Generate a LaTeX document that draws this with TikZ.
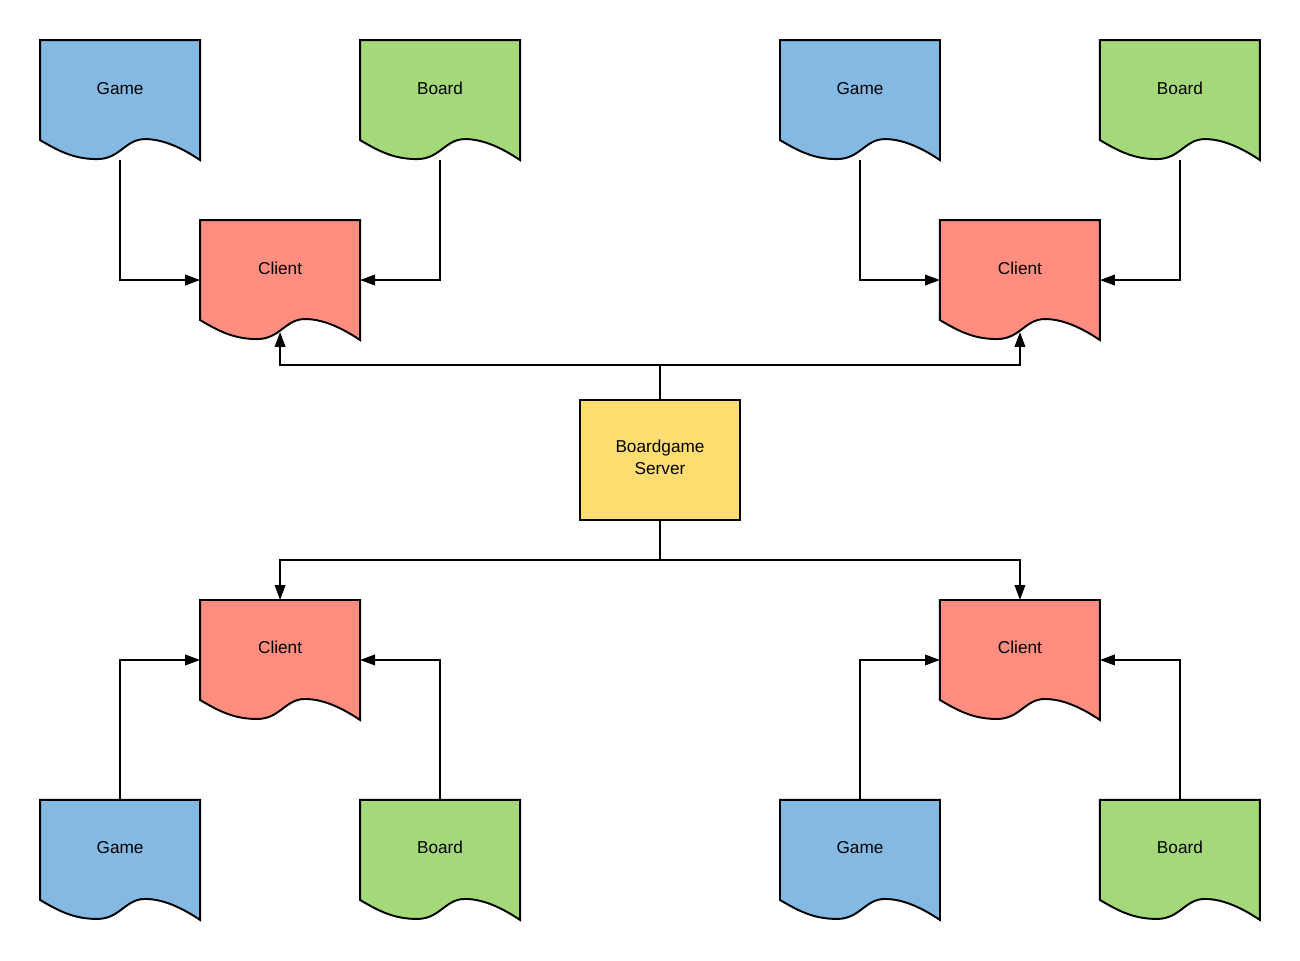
\documentclass[tikz,border=0pt]{standalone}
\usepackage{fontspec}
\setmainfont{Liberation Sans}
\usetikzlibrary{positioning,arrows.meta,backgrounds}

\definecolor{gameblue}{HTML}{83B9E3}
\definecolor{boardgreen}{HTML}{A3D978}
\definecolor{clientred}{HTML}{FF8D80}
\definecolor{serveryellow}{HTML}{FFDE71}

\tikzset{
  docbox/.style={minimum width=3.2cm, minimum height=2.4cm, inner sep=0pt, outer sep=0pt,
    text height=7pt, text depth=13.8pt},
  docline/.style={draw=black, line width=1.1pt, line join=miter},
  link/.style={draw=black, line width=1.1pt, -{Triangle[length=8.5pt,width=6pt]}},
}

\begin{document}
\begin{tikzpicture}[x=0.02cm, y=-0.02cm, font=\fontsize{9.8pt}{12.2pt}\selectfont]
      \useasboundingbox (0,0) rectangle (1300,960);
      % Define nodes
      \node[draw, line width=1.1pt, fill=serveryellow, minimum width=3.2cm, minimum height=2.4cm,
        inner sep=0pt, outer sep=0pt, text height=7pt, text depth=15.3pt] (server) at (660,460)
        {\parbox[t]{3cm}{\centering Boardgame\\Server}};
      \node[docbox, above left=1.2cm and 4.4cm of server]  (client1) {Client};
      \node[docbox, above right=1.2cm and 4cm of server]   (client2) {Client};
      \node[docbox, below left=1.6cm and 4.4cm of server]  (client3) {Client};
      \node[docbox, below right=1.6cm and 4cm of server]   (client4) {Client};
      \node[docbox, above left=1.2cm and 0cm of client1]   (game1) {Game};
      \node[docbox, above right=1.2cm and 0cm of client1]  (board1) {Board};
      \node[docbox, above left=1.2cm and 0cm of client2]   (game2) {Game};
      \node[docbox, above right=1.2cm and 0cm of client2]  (board2) {Board};
      \node[docbox, below left=1.6cm and 0cm of client3]   (game3) {Game};
      \node[docbox, below right=1.6cm and 0cm of client3]  (board3) {Board};
      \node[docbox, below left=1.6cm and 0cm of client4]   (game4) {Game};
      \node[docbox, below right=1.6cm and 0cm of client4]  (board4) {Board};
      \begin{scope}[on background layer]
        % Connect nodes
        \draw[link] (game1) |- (client1.west);
        \draw[link] (board1) |- (client1.east);
        \draw[link] (game2) |- (client2.west);
        \draw[link] (board2) |- (client2.east);
        \draw[link] (game3) |- (client3.west);
        \draw[link] (board3) |- (client3.east);
        \draw[link] (game4) |- (client4.west);
        \draw[link] (board4) |- (client4.east);
        \draw[link, shorten >=-0.16cm] (server.north) -- ++(0,-35) -| (client1.south);
        \draw[link, shorten >=-0.16cm] (server.north) -- ++(0,-35) -| (client2.south);
        \draw[link] (server.south) -- ++(0,40) -| (client3.north);
        \draw[link] (server.south) -- ++(0,40) -| (client4.north);
        % Document shapes
        \foreach \n/\c in {game1/gameblue, board1/boardgreen, client1/clientred,
                           game2/gameblue, board2/boardgreen, client2/clientred,
                           game3/gameblue, board3/boardgreen, client3/clientred,
                           game4/gameblue, board4/boardgreen, client4/clientred}
          \draw[docline, fill=\c, shift={(\n.north west)}] (0,0) -- (160,0) -- (160,120)
            .. controls (145,110) and (125,99) .. (105,99)
            .. controls (85,99) and (80,119) .. (57,119)
            .. controls (35,119) and (20,112) .. (0,100) -- cycle;
      \end{scope}
    \end{tikzpicture}
\end{document}
